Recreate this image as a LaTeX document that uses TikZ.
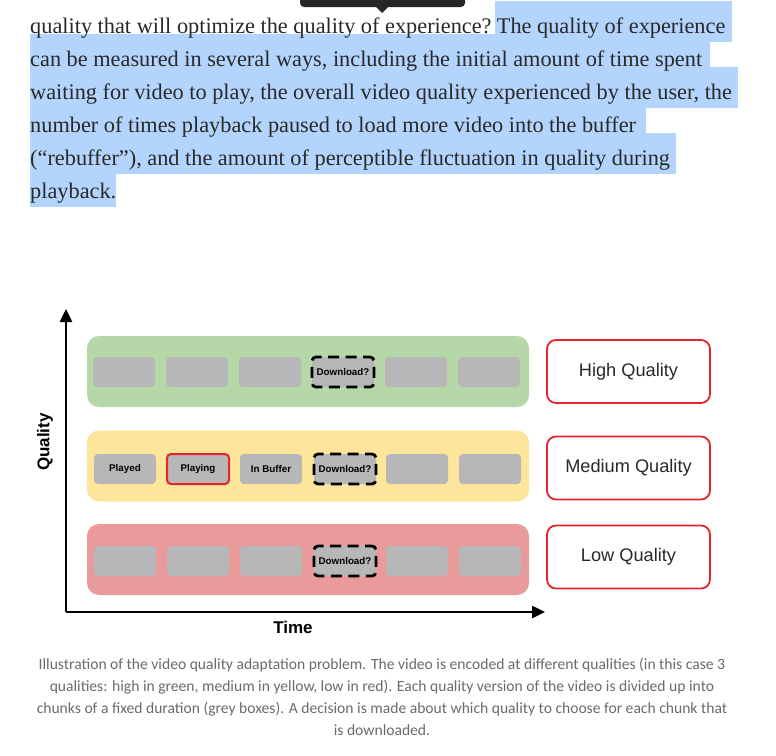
\documentclass[tikz,border=0pt]{standalone}
\usepackage{fontspec}
\setmainfont{Liberation Serif}
\newfontfamily\capfont{Carlito}
\newfontfamily\diafont{Liberation Sans}
\usetikzlibrary{arrows.meta,backgrounds}

\definecolor{textdark}{HTML}{292929}
\definecolor{hlblue}{HTML}{B3D4FC}
\definecolor{capgrey}{HTML}{6B6B6B}
\definecolor{bandgreen}{HTML}{B6D7A8}
\definecolor{bandyellow}{HTML}{FDE59B}
\definecolor{bandred}{HTML}{E99A9A}
\definecolor{chunkgrey}{HTML}{B7B7B7}
\definecolor{boxred}{HTML}{E3262D}
\definecolor{tipdark}{HTML}{262626}

\begin{document}
\begin{tikzpicture}[x=1pt,y=-1pt,
    band/.style={rounded corners=12pt, minimum width=442pt, minimum height=71pt, inner sep=0pt},
    chunk/.style={fill=chunkgrey, rounded corners=4pt, minimum width=62pt, minimum height=30pt,
                  inner sep=0pt, text=black, font=\diafont\bfseries\fontsize{9.8}{11}\selectfont},
    playbox/.style={chunk, draw=boxred, line width=2pt},
    dlbox/.style={chunk, draw=black, line width=2.8pt, dash pattern=on 11pt off 6.5pt, dash phase=4pt},
    qualbox/.style={draw=boxred, line width=1.8pt, rounded corners=9pt, minimum width=163pt,
                    minimum height=63pt, text=textdark, font=\diafont\fontsize{18.2}{21}\selectfont},
    axislabel/.style={text=black, font=\diafont\bfseries\fontsize{17}{20}\selectfont},
    para/.style={anchor=base west, inner xsep=0pt, text=textdark, font=\fontsize{22.3}{26}\selectfont},
    hl/.style={para, text height=28pt, text depth=5pt},
    caption/.style={anchor=base, text=capgrey, font=\capfont\fontsize{15.6}{18}\selectfont}
  ]
  \useasboundingbox (0,0) rectangle (776,755);

  % Tooltip over the first line
  \fill[tipdark, rounded corners=4pt] (300,-8) rectangle (465,7);
  \fill[tipdark] (375,6) -- (382,13) -- (389,6) -- cycle;

  % Paragraph, highlighted part
  \node[para] (l1a) at (30,33) {quality that will optimize the quality of experience?};
  \node[hl, inner xsep=2pt] (l1b) at ([xshift=3pt]l1a.base east) {The quality of experience\hspace*{4pt}};
  \node[hl] (l2) at (30,66) {can be measured in several ways, including the initial amount of time spent\hspace*{8pt}};
  \node[hl] (l3) at (30,99) {waiting for video to play, the overall video quality experienced by the user, the\hspace*{6pt}};
  \node[hl] (l4) at (30,132) {number of times playback paused to load more video into the buffer\hspace*{10pt}};
  \node[hl] (l5) at (30,165) {(“rebuffer”), and the amount of perceptible fluctuation in quality during\hspace*{6pt}};
  \node[hl] (l6) at (30,198) {playback.};
  \begin{scope}[on background layer]
    \fill[white] (0,0) rectangle (776,755);
    \foreach \n in {l1b,l2,l3,l4,l5,l6}
      \fill[hlblue] (\n.north west) rectangle (\n.south east);
  \end{scope}

  % Quality bands
  \node[band, fill=bandgreen] (high) at (308,371.5) {};
  \node[band, fill=bandyellow] (medium) at (308,466) {};
  \node[band, fill=bandred] (low) at (308,559.5) {};

  % High quality chunks
  \foreach \i/\x in {1/124,2/197,3/270,5/416,6/489}
    \node[chunk] (hi\i) at (\x,372) {};
  \node[dlbox] (hi4) at (343,372) {Download?};

  % Medium quality chunks
  \node[chunk] (med1) at (125,469) {Played};
  \node[playbox] (med2) at (198,469) {Playing};
  \node[chunk] (med3) at (271,469) {In Buffer};
  \node[dlbox] (med4) at (345,469) {Download?};
  \foreach \i/\x in {5/417,6/490}
    \node[chunk] (med\i) at (\x,469) {};

  % Low quality chunks
  \foreach \i/\x in {1/125,2/198,3/271,5/417,6/490}
    \node[chunk] (lo\i) at (\x,561) {};
  \node[dlbox] (lo4) at (345,561) {Download?};

  % Axes
  \coordinate (origin) at (66,612);
  \coordinate (qtop) at (66,309);
  \coordinate (tend) at (545,612);
  \draw[line width=2.5pt, -{Triangle[length=13pt,width=12pt]}] (origin) -- (qtop);
  \draw[line width=2.5pt, -{Triangle[length=13pt,width=12pt]}] (origin) -- (tend);
  \node[axislabel, rotate=90] (qlabel) at (45,442) {Quality};
  \node[axislabel] (tlabel) at (293,627) {Time};

  % Legend boxes
  \node[qualbox] (hq) at (628.5,371.5) {High Quality};
  \node[qualbox] (mq) at (628.5,468) {Medium Quality};
  \node[qualbox] (lq) at (628.5,557) {Low Quality};

  % Caption
  \node[caption] (c1) at (382,669) {Illustration of the video quality adaptation problem. The video is encoded at different qualities (in this case 3};
  \node[caption] (c2) at (382,691.5) {qualities: high in green, medium in yellow, low in red). Each quality version of the video is divided up into};
  \node[caption] (c3) at (382,713) {chunks of a fixed duration (grey boxes). A decision is made about which quality to choose for each chunk that};
  \node[caption] (c4) at (382,735) {is downloaded.};
\end{tikzpicture}
\end{document}
